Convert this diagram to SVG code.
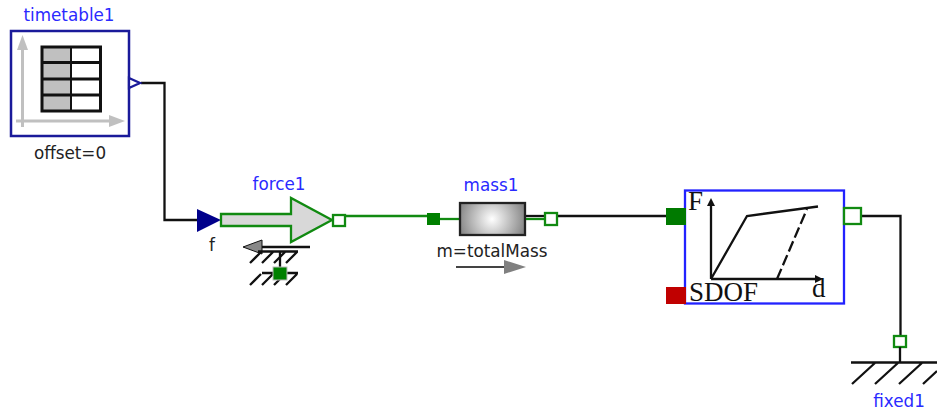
<svg xmlns="http://www.w3.org/2000/svg" width="937" height="412" viewBox="0 0 937 412">
<defs><radialGradient id="massFill" gradientUnits="userSpaceOnUse" cx="492" cy="219" r="34"><stop offset="0" stop-color="#ffffff"/><stop offset="1" stop-color="#858585"/></radialGradient></defs>
<style>
text{font-family:"DejaVu Sans",Verdana,sans-serif;font-size:16.800px}
.n{fill:#2a2aff;text-anchor:middle}
.b{fill:#222;text-anchor:middle}
.s{font-family:"Liberation Serif","Times New Roman",serif;font-size:27px;fill:#111}
.k{fill:none;stroke:#111;stroke-width:2.300}
.h{fill:none;stroke:#111;stroke-width:2.300}
.g{fill:none;stroke:#c0c0c0;stroke-width:3}
.gp{fill:#fff;stroke:#118a11;stroke-width:2.300}
</style>
<rect width="937" height="412" fill="#fff"/>
<g id="connectors">
<path class="k" d="M141 83H164.500V220H198"/>
<path d="M344 216H432" fill="none" stroke="#118a11" stroke-width="2.300"/>
<path d="M438 219H460" fill="none" stroke="#118a11" stroke-width="2.300"/>
<path class="k" d="M558 216H667"/>
<path class="k" d="M861 216H900.500V336"/>
</g>
<g id="timetable1">
<text class="n" x="69" y="21">timetable1</text>
<rect x="11" y="31" width="118" height="105" fill="#fff" stroke="#1a1a9a" stroke-width="2.500"/>
<path class="g" d="M22.500 127V44"/><path d="M22.500 35L17 50H28Z" fill="#c0c0c0"/>
<path class="g" d="M16 121H112"/><path d="M125 121L109 115V127Z" fill="#c0c0c0"/>
<rect x="42" y="47" width="29" height="64" fill="#c0c0c0"/>
<path d="M42 47H100.500V111H42ZM42 62.500H100.500M42 79H100.500M42 95H100.500" fill="none" stroke="#111" stroke-width="3"/>
<path d="M71 47V111" fill="none" stroke="#111" stroke-width="2"/>
<path d="M129 78L140 83L129 88Z" fill="#fff" stroke="#1a1a9a" stroke-width="2.300"/>
<text class="b" x="70" y="159">offset=0</text>
</g>
<g id="force1">
<text class="n" x="279" y="190">force1</text>
<path d="M197 209L221 220L197 232Z" fill="#00008b"/>
<path d="M221 214H291V198L332 220L291 242V226H221Z" fill="#d8d8d8" stroke="#118a11" stroke-width="2.300"/>
<rect x="333" y="215" width="12" height="11" class="gp"/>
<text class="b" x="212" y="251">f</text>
<path d="M310 247H262" class="h"/><path d="M243 247L262 240V254Z" fill="#888" stroke="#111" stroke-width="1"/>
<path class="h" d="M258 251.500H298M250 263L261 252M262 263L273 252M274 263L285 252M286 263L297 252"/>
<path class="h" d="M280 252V268"/>
<path class="h" d="M262 273H298M250 285L261 274M262 285L273 274M274 285L285 274M286 285L297 274"/>
<rect x="273" y="267" width="14" height="13" fill="#008000" stroke="#bbb" stroke-width="1"/>
</g>
<g id="mass1">
<text class="n" x="491" y="191">mass1</text>
<rect x="427" y="213" width="13" height="12" fill="#008000"/>
<rect x="460" y="203" width="65" height="32" fill="url(#massFill)" stroke="#222" stroke-width="2.300"/>
<path d="M526 216H546" stroke="#111" stroke-width="2.300"/><path d="M526 219H546" stroke="#118a11" stroke-width="2.300"/>
<rect x="545" y="213" width="12" height="12" class="gp"/>
<text class="b" x="492" y="257">m=totalMass</text>
<path d="M456 267H505" stroke="#444" stroke-width="2"/><path d="M526 267L504 260V274Z" fill="#808080"/>
</g>
<g id="SDOF">
<rect x="685" y="190.500" width="159" height="113" fill="#fff" stroke="#2222ff" stroke-width="2.300"/>
<rect x="666" y="208" width="20" height="17" fill="#007a00"/>
<rect x="666" y="287" width="20" height="17" fill="#c00000"/>
<rect x="844" y="208" width="17" height="16" class="gp"/>
<path class="h" d="M711 279V205M711 279H815M711 279L747 216L818 206.500"/>
<path class="h" d="M777 279L807 209" stroke-dasharray="11 4"/>
<path d="M711 198L707 206H715ZM823 279L815 275V283Z" fill="#111"/>
<text class="s" x="688" y="210">F</text>
<text class="s" x="689" y="301">SDOF</text>
<text class="s" x="812" y="297">d</text>
</g>
<g id="fixed1">
<rect x="894" y="336" width="12" height="11" class="gp"/>
<path class="h" d="M900 347V362"/>
<path class="h" d="M851 362.500H937M852 384L876 362M875 384L899 362M899 384L923 362M923 384L937 371"/>
<text class="n" x="899" y="407">fixed1</text>
</g>
</svg>
